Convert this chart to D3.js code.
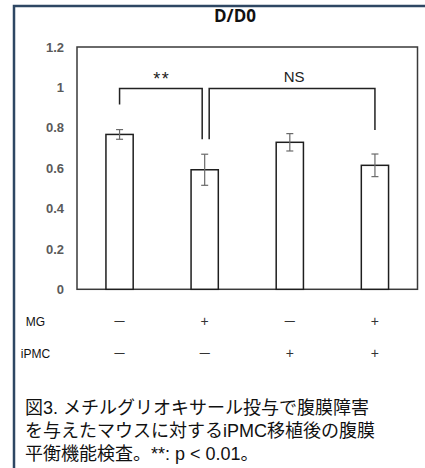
<!DOCTYPE html>
<html>
<head>
<meta charset="utf-8">
<script src="https://cdn.jsdelivr.net/npm/d3@7"></script>
<style>
  html, body { margin: 0; padding: 0; background: #fff; }
  svg { display: block; }
</style>
</head>
<body>
<svg id="chart" width="425" height="468"></svg>
<script>
// Groups and measured D/D0 values (mean ± error)
const groups = ["ctrl", "MG", "iPMC", "MG+iPMC"];
const values = [0.767, 0.592, 0.728, 0.614];
const errors = [0.024, 0.077, 0.043, 0.056];
const yTicks = [0, 0.2, 0.4, 0.6, 0.8, 1, 1.2];
const yTickLabels = ["0", "0.2", "0.4", "0.6", "0.8", "1", "1.2"];
// Treatment table rows below the axis
const rowNames = ["MG", "iPMC"];
const rowMG = ["－", "+", "－", "+"];
const rowIPMC = ["－", "－", "+", "+"];
// Significance brackets: from group index to group index, label
const brackets = [
  { from: 0, to: 1, label: "**" },
  { from: 1, to: 3, label: "NS" }
];
const titleText = "D/D0";
const captionLines = [
  "図3. メチルグリオキサール投与で腹膜障害",
  "を与えたマウスに対するiPMC移植後の腹膜",
  "平衡機能検査。**: p < 0.01。"
];

const svg = d3.select("#chart");
const plot = { left: 77, right: 417.5, top: 47, bottom: 289.3 };

// Outer panel frame (top and left edges)
svg.append("path")
  .attr("d", "M14,468 L14,6 L425,6")
  .attr("fill", "none")
  .attr("stroke", "#2e4763")
  .attr("stroke-width", 2.5);

const x = d3.scaleBand()
  .domain(groups)
  .range([plot.left, plot.right])
  .paddingInner(0.68)
  .paddingOuter(0.34);

const y = d3.scaleLinear()
  .domain([0, 1.2])
  .range([plot.bottom, plot.top]);

const cx = g => x(g) + x.bandwidth() / 2;

// Title
svg.append("text")
  .attr("x", 235)
  .attr("y", 22)
  .attr("text-anchor", "middle")
  .attr("font-family", "'Open Sans', 'Liberation Sans', sans-serif")
  .attr("font-weight", "bold")
  .attr("font-size", 17)
  .attr("fill", "#111")
  .text(titleText);

// Y axis labels
const yAxis = d3.axisLeft(y)
  .tickValues(yTicks)
  .tickFormat((d, i) => yTickLabels[i])
  .tickSize(0)
  .tickPadding(13);

const yg = svg.append("g")
  .attr("transform", `translate(${plot.left},0)`)
  .call(yAxis);
yg.select(".domain").remove();
yg.selectAll("text")
  .attr("font-family", "'Liberation Sans', Arial, sans-serif")
  .attr("font-weight", "bold")
  .attr("font-size", 13)
  .attr("fill", "#5a5a5a");

// Plot box
svg.append("rect")
  .attr("x", plot.left)
  .attr("y", plot.top)
  .attr("width", plot.right - plot.left)
  .attr("height", plot.bottom - plot.top)
  .attr("fill", "none")
  .attr("stroke", "#3a3a3a")
  .attr("stroke-width", 1.5);

// Bars
svg.append("g").selectAll("rect")
  .data(groups)
  .join("rect")
  .attr("x", g => x(g))
  .attr("y", (g, i) => y(values[i]))
  .attr("width", x.bandwidth())
  .attr("height", (g, i) => y(0) - y(values[i]))
  .attr("fill", "#fff")
  .attr("stroke", "#1e1e1e")
  .attr("stroke-width", 1.5);

// Error bars
const eg = svg.append("g")
  .attr("stroke", "#6a6a6a")
  .attr("stroke-width", 1.2);
groups.forEach((g, i) => {
  const c = cx(g);
  const hi = y(values[i] + errors[i]);
  const lo = y(values[i] - errors[i]);
  eg.append("line").attr("x1", c).attr("x2", c).attr("y1", hi).attr("y2", lo);
  eg.append("line").attr("x1", c - 3.5).attr("x2", c + 3.5).attr("y1", hi).attr("y2", hi);
  eg.append("line").attr("x1", c - 3.5).attr("x2", c + 3.5).attr("y1", lo).attr("y2", lo);
});

// Significance brackets
const bracketTop = y(0.995);
const bg = svg.append("g");
brackets.forEach((b, k) => {
  const g0 = groups[b.from], g1 = groups[b.to];
  const x0 = cx(g0) + (k === 0 ? 0 : 4.5);
  const x1 = cx(g1) + (k === 0 ? -2.5 : 0);
  const y0 = y(values[b.from] + errors[b.from]) - (k === 0 ? 25 : 15);
  const y1 = y(values[b.to] + errors[b.to]) - (k === 0 ? 15 : 24);
  bg.append("path")
    .attr("d", `M${x0},${y0} L${x0},${bracketTop} L${x1},${bracketTop} L${x1},${y1}`)
    .attr("fill", "none")
    .attr("stroke", "#222")
    .attr("stroke-width", 1.5);
  const isStar = b.label === "**";
  bg.append("text")
    .attr("x", (x0 + x1) / 2 + (isStar ? 1 : 2))
    .attr("y", isStar ? 85 : 82)
    .attr("text-anchor", "middle")
    .attr("font-family", "'Liberation Sans', Arial, sans-serif")
    .attr("font-size", isStar ? 18 : 15)
    .attr("letter-spacing", isStar ? 1.5 : 0)
    .attr("fill", "#222")
    .text(b.label);
});

// Treatment table
const rows = [rowMG, rowIPMC];
const rowY = [321.5, 353.5];
rows.forEach((signs, r) => {
  svg.append("text")
    .attr("x", 35.5)
    .attr("y", rowY[r])
    .attr("dy", "0.35em")
    .attr("text-anchor", "middle")
    .attr("font-family", "'Liberation Sans', Arial, sans-serif")
    .attr("font-size", 12)
    .attr("fill", "#111")
    .text(rowNames[r]);
  svg.append("g").selectAll("text")
    .data(groups)
    .join("text")
    .attr("x", g => cx(g))
    .attr("y", rowY[r])
    .attr("dy", "0.35em")
    .attr("text-anchor", "middle")
    .attr("font-family", "'Liberation Sans', 'Noto Sans CJK JP', sans-serif")
    .attr("font-size", 14)
    .attr("fill", "#333")
    .text((g, i) => signs[i]);
});

// Caption
svg.append("g").selectAll("text")
  .data(captionLines)
  .join("text")
  .attr("x", 25)
  .attr("y", (d, i) => 414 + i * 23)
  .attr("font-family", "'Liberation Sans', 'Noto Sans CJK JP', sans-serif")
  .attr("font-size", 18)
  .attr("fill", "#111")
  .text(d => d);
</script>
</body>
</html>
